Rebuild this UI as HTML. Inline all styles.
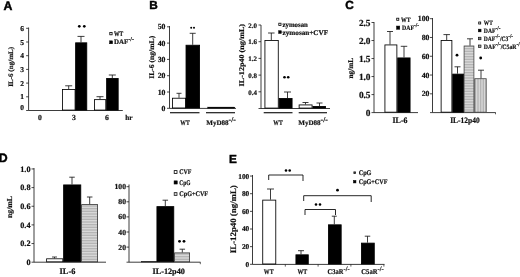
<!DOCTYPE html>
<html><head><meta charset="utf-8"><title>Figure</title>
<style>
html,body{margin:0;padding:0;background:#fff;}
body{width:520px;height:277px;overflow:hidden;}
svg{display:block;}
text{text-rendering:geometricPrecision;}
.s{font-family:"Liberation Serif","DejaVu Serif",serif;font-weight:bold;fill:#111;stroke:#111;stroke-width:0.2px;}
.b{font-family:"Liberation Sans","DejaVu Sans",sans-serif;font-weight:bold;fill:#000;stroke:#000;stroke-width:0.45px;}
</style></head><body>
<svg width="520" height="277" viewBox="0 0 520 277">
<defs>
<pattern id="hh" width="2" height="1.6" patternUnits="userSpaceOnUse"><rect width="2" height="1.6" fill="#dedede"/><rect y="0" width="2" height="0.7" fill="#a8a8a8"/></pattern>
<pattern id="vh" width="1.6" height="2" patternUnits="userSpaceOnUse"><rect width="1.6" height="2" fill="#dedede"/><rect x="0" width="0.7" height="2" fill="#a8a8a8"/></pattern>
</defs>
<rect width="520" height="277" fill="#fff"/>
<g>
<text x="3.4" y="9.9" font-size="12.3" text-anchor="start" class="b" >A</text>
<line x1="28.6" y1="27.5" x2="28.6" y2="110.5" stroke="#1a1a1a" stroke-width="0.85"/>
<line x1="28.6" y1="110.5" x2="122.8" y2="110.5" stroke="#1a1a1a" stroke-width="0.85"/>
<line x1="26.1" y1="110.5" x2="28.6" y2="110.5" stroke="#1a1a1a" stroke-width="0.8"/>
<text x="24.1" y="110.01" font-size="7.49" text-anchor="end" class="s" >0</text>
<line x1="26.1" y1="96.8" x2="28.6" y2="96.8" stroke="#1a1a1a" stroke-width="0.8"/>
<text x="24.1" y="99.31" font-size="7.49" text-anchor="end" class="s" >1</text>
<line x1="26.1" y1="83.1" x2="28.6" y2="83.1" stroke="#1a1a1a" stroke-width="0.8"/>
<text x="24.1" y="85.61" font-size="7.49" text-anchor="end" class="s" >2</text>
<line x1="26.1" y1="69.4" x2="28.6" y2="69.4" stroke="#1a1a1a" stroke-width="0.8"/>
<text x="24.1" y="71.91" font-size="7.49" text-anchor="end" class="s" >3</text>
<line x1="26.1" y1="55.7" x2="28.6" y2="55.7" stroke="#1a1a1a" stroke-width="0.8"/>
<text x="24.1" y="58.21" font-size="7.49" text-anchor="end" class="s" >4</text>
<line x1="26.1" y1="42.0" x2="28.6" y2="42.0" stroke="#1a1a1a" stroke-width="0.8"/>
<text x="24.1" y="44.51" font-size="7.49" text-anchor="end" class="s" >5</text>
<line x1="26.1" y1="28.30000000000001" x2="28.6" y2="28.30000000000001" stroke="#1a1a1a" stroke-width="0.8"/>
<text x="24.1" y="30.81" font-size="7.49" text-anchor="end" class="s" >6</text>
<rect x="62.425" y="89.425" width="12.65" height="20.65" fill="#fff" stroke="#000" stroke-width="0.85"/>
<rect x="75.625" y="42.824999999999996" width="11.15" height="67.25" fill="#000" stroke="#000" stroke-width="0.85"/>
<line x1="68.7" y1="89" x2="68.7" y2="85.8" stroke="#1a1a1a" stroke-width="0.85"/>
<line x1="65.2" y1="85.8" x2="72.2" y2="85.8" stroke="#1a1a1a" stroke-width="0.85"/>
<line x1="81" y1="42.4" x2="81" y2="36.4" stroke="#1a1a1a" stroke-width="0.85"/>
<line x1="77.5" y1="36.4" x2="84.5" y2="36.4" stroke="#1a1a1a" stroke-width="0.85"/>
<rect x="94.425" y="99.625" width="11.35" height="10.45" fill="#fff" stroke="#000" stroke-width="0.85"/>
<rect x="106.625" y="78.425" width="11.55" height="31.65" fill="#000" stroke="#000" stroke-width="0.85"/>
<line x1="100" y1="99.2" x2="100" y2="96.7" stroke="#1a1a1a" stroke-width="0.85"/>
<line x1="96.5" y1="96.7" x2="103.5" y2="96.7" stroke="#1a1a1a" stroke-width="0.85"/>
<line x1="112.3" y1="78" x2="112.3" y2="75" stroke="#1a1a1a" stroke-width="0.85"/>
<line x1="108.8" y1="75" x2="115.8" y2="75" stroke="#1a1a1a" stroke-width="0.85"/>
<circle cx="79.3" cy="26.3" r="1.35" fill="#000"/>
<circle cx="84.3" cy="26.3" r="1.35" fill="#000"/>
<text x="40" y="119.5" font-size="7.7" text-anchor="middle" class="s" >0</text>
<text x="74" y="119.5" font-size="7.7" text-anchor="middle" class="s" >3</text>
<text x="107" y="119.5" font-size="7.7" text-anchor="middle" class="s" >6</text>
<text x="125.3" y="119.7" font-size="7.28" text-anchor="start" class="s" >hr</text>
<rect x="109.80000000000001" y="32.4" width="2.3" height="2.4" fill="#fff" stroke="#000" stroke-width="0.8"/>
<text x="114" y="35.6" font-size="6.74" text-anchor="start" class="s" textLength="9.2" lengthAdjust="spacingAndGlyphs">WT</text>
<rect x="109.65" y="40.85" width="2.9" height="2.9" fill="#000" stroke="#000" stroke-width="0.5"/>
<text x="114" y="44.1" font-size="6.96" text-anchor="start" class="s" >DAF<tspan dy="-3.1" font-size="6">-/-</tspan></text>
<text transform="translate(12.9,66.8) rotate(-90)" font-size="6.8" text-anchor="middle" class="s" textLength="40" lengthAdjust="spacingAndGlyphs">IL-6 (ng/mL)</text>
<text x="149.3" y="8.9" font-size="11.8" text-anchor="start" class="b" >B</text>
<line x1="169.5" y1="26" x2="169.5" y2="108.4" stroke="#1a1a1a" stroke-width="0.85"/>
<line x1="169.5" y1="108.4" x2="236" y2="108.4" stroke="#1a1a1a" stroke-width="0.85"/>
<line x1="167.0" y1="108.3" x2="169.5" y2="108.3" stroke="#1a1a1a" stroke-width="0.8"/>
<text x="165.5" y="110.92" font-size="7.81" text-anchor="end" class="s" >0</text>
<line x1="167.0" y1="92.0" x2="169.5" y2="92.0" stroke="#1a1a1a" stroke-width="0.8"/>
<text x="165.5" y="94.62" font-size="7.81" text-anchor="end" class="s" >10</text>
<line x1="167.0" y1="75.69999999999999" x2="169.5" y2="75.69999999999999" stroke="#1a1a1a" stroke-width="0.8"/>
<text x="165.5" y="78.32" font-size="7.81" text-anchor="end" class="s" >20</text>
<line x1="167.0" y1="59.39999999999999" x2="169.5" y2="59.39999999999999" stroke="#1a1a1a" stroke-width="0.8"/>
<text x="165.5" y="62.02" font-size="7.81" text-anchor="end" class="s" >30</text>
<line x1="167.0" y1="43.099999999999994" x2="169.5" y2="43.099999999999994" stroke="#1a1a1a" stroke-width="0.8"/>
<text x="165.5" y="45.72" font-size="7.81" text-anchor="end" class="s" >40</text>
<line x1="167.0" y1="26.799999999999997" x2="169.5" y2="26.799999999999997" stroke="#1a1a1a" stroke-width="0.8"/>
<text x="165.5" y="29.42" font-size="7.81" text-anchor="end" class="s" >50</text>
<rect x="172.425" y="98.225" width="13.15" height="9.75" fill="#fff" stroke="#000" stroke-width="0.85"/>
<rect x="186.025" y="45.224999999999994" width="13.55" height="62.75" fill="#000" stroke="#000" stroke-width="0.85"/>
<line x1="179" y1="97.8" x2="179" y2="93.3" stroke="#1a1a1a" stroke-width="0.85"/>
<line x1="176.5" y1="93.3" x2="181.5" y2="93.3" stroke="#1a1a1a" stroke-width="0.85"/>
<line x1="192.7" y1="44.8" x2="192.7" y2="33.3" stroke="#1a1a1a" stroke-width="0.85"/>
<line x1="189.7" y1="33.3" x2="195.7" y2="33.3" stroke="#1a1a1a" stroke-width="0.85"/>
<circle cx="191.2" cy="27.7" r="1" fill="#000"/>
<circle cx="194" cy="27.7" r="1" fill="#000"/>
<rect x="207.65" y="107.05000000000001" width="27.2" height="1.2" fill="#000" stroke="#000" stroke-width="0.3"/>
<line x1="170" y1="112.7" x2="199.5" y2="112.7" stroke="#1a1a1a" stroke-width="1.2"/>
<line x1="206" y1="112.7" x2="235" y2="112.7" stroke="#1a1a1a" stroke-width="1.2"/>
<text x="185" y="125.4" font-size="6.96" text-anchor="middle" class="s" textLength="9.4" lengthAdjust="spacingAndGlyphs">WT</text>
<text x="206.3" y="124.6" font-size="7.06" text-anchor="start" class="s" textLength="29.5" lengthAdjust="spacingAndGlyphs">MyD88<tspan dy="-2.6" font-size="7.6">-/-</tspan></text>
<text transform="translate(154.4,57.3) rotate(-90)" font-size="7.2" text-anchor="middle" class="s" textLength="43" lengthAdjust="spacingAndGlyphs">IL-6 (ng/mL)</text>
<line x1="261" y1="25" x2="261" y2="108.5" stroke="#1a1a1a" stroke-width="0.85"/>
<line x1="261" y1="108.5" x2="330" y2="108.5" stroke="#1a1a1a" stroke-width="0.85"/>
<line x1="258.5" y1="108.5" x2="261" y2="108.5" stroke="#1a1a1a" stroke-width="0.8"/>
<line x1="258.5" y1="91.8" x2="261" y2="91.8" stroke="#1a1a1a" stroke-width="0.8"/>
<text x="257" y="94.53" font-size="6.96" text-anchor="end" class="s" >0.4</text>
<line x1="258.5" y1="75.1" x2="261" y2="75.1" stroke="#1a1a1a" stroke-width="0.8"/>
<text x="257" y="77.83" font-size="6.96" text-anchor="end" class="s" >0.8</text>
<line x1="258.5" y1="58.400000000000006" x2="261" y2="58.400000000000006" stroke="#1a1a1a" stroke-width="0.8"/>
<text x="257" y="61.13" font-size="6.96" text-anchor="end" class="s" >1.2</text>
<line x1="258.5" y1="41.7" x2="261" y2="41.7" stroke="#1a1a1a" stroke-width="0.8"/>
<text x="257" y="44.43" font-size="6.96" text-anchor="end" class="s" >1.6</text>
<line x1="258.5" y1="25.0" x2="261" y2="25.0" stroke="#1a1a1a" stroke-width="0.8"/>
<text x="257" y="27.73" font-size="6.96" text-anchor="end" class="s" >2.0</text>
<rect x="264.925" y="40.425" width="13.35" height="67.65" fill="#fff" stroke="#000" stroke-width="0.85"/>
<rect x="279.125" y="98.425" width="12.95" height="9.65" fill="#000" stroke="#000" stroke-width="0.85"/>
<line x1="271.3" y1="40" x2="271.3" y2="33" stroke="#1a1a1a" stroke-width="0.85"/>
<line x1="268.05" y1="33" x2="274.55" y2="33" stroke="#1a1a1a" stroke-width="0.85"/>
<line x1="287.5" y1="98" x2="287.5" y2="92" stroke="#1a1a1a" stroke-width="0.85"/>
<line x1="284.0" y1="92" x2="291.0" y2="92" stroke="#1a1a1a" stroke-width="0.85"/>
<circle cx="284.5" cy="77.2" r="1.3" fill="#000"/>
<circle cx="288.2" cy="77.2" r="1.3" fill="#000"/>
<rect x="299.125" y="104.925" width="12.95" height="3.15" fill="#fff" stroke="#000" stroke-width="0.85"/>
<rect x="312.925" y="106.425" width="12.65" height="1.65" fill="#000" stroke="#000" stroke-width="0.85"/>
<line x1="305.5" y1="104.5" x2="305.5" y2="102.5" stroke="#1a1a1a" stroke-width="0.85"/>
<line x1="302.5" y1="102.5" x2="308.5" y2="102.5" stroke="#1a1a1a" stroke-width="0.85"/>
<line x1="319.5" y1="106" x2="319.5" y2="103" stroke="#1a1a1a" stroke-width="0.85"/>
<line x1="316.5" y1="103" x2="322.5" y2="103" stroke="#1a1a1a" stroke-width="0.85"/>
<line x1="263.7" y1="112.7" x2="292.5" y2="112.7" stroke="#1a1a1a" stroke-width="1.2"/>
<line x1="298.7" y1="112.7" x2="327" y2="112.7" stroke="#1a1a1a" stroke-width="1.2"/>
<text x="278" y="125.4" font-size="6.96" text-anchor="middle" class="s" textLength="9.4" lengthAdjust="spacingAndGlyphs">WT</text>
<text x="298.3" y="124.6" font-size="7.06" text-anchor="start" class="s" textLength="29.5" lengthAdjust="spacingAndGlyphs">MyD88<tspan dy="-2.6" font-size="7.6">-/-</tspan></text>
<text transform="translate(244.2,55.2) rotate(-90)" font-size="7.3" text-anchor="middle" class="s" textLength="62.5" lengthAdjust="spacingAndGlyphs">IL-12p40 (ng/mL)</text>
<rect x="278.79999999999995" y="23.2" width="2.2" height="2.2" fill="#fff" stroke="#000" stroke-width="0.8"/>
<text x="282.6" y="27" font-size="7.17" text-anchor="start" class="s" textLength="25.2" lengthAdjust="spacingAndGlyphs">zymosan</text>
<rect x="278.65" y="30.75" width="2.7" height="2.7" fill="#000" stroke="#000" stroke-width="0.5"/>
<text x="282.6" y="34.7" font-size="7.17" text-anchor="start" class="s" textLength="45.5" lengthAdjust="spacingAndGlyphs">zymosan+CVF</text>
<text x="345.3" y="8.9" font-size="11.8" text-anchor="start" class="b" >C</text>
<line x1="374" y1="22" x2="374" y2="112.6" stroke="#1a1a1a" stroke-width="0.85"/>
<line x1="374" y1="112.6" x2="418" y2="112.6" stroke="#1a1a1a" stroke-width="0.85"/>
<line x1="371.5" y1="112.6" x2="374" y2="112.6" stroke="#1a1a1a" stroke-width="0.8"/>
<text x="370.5" y="115.72" font-size="9.31" text-anchor="end" class="s" >0</text>
<line x1="371.5" y1="94.58" x2="374" y2="94.58" stroke="#1a1a1a" stroke-width="0.8"/>
<text x="370.5" y="97.7" font-size="9.31" text-anchor="end" class="s" >0.5</text>
<line x1="371.5" y1="76.56" x2="374" y2="76.56" stroke="#1a1a1a" stroke-width="0.8"/>
<text x="370.5" y="79.68" font-size="9.31" text-anchor="end" class="s" >1.0</text>
<line x1="371.5" y1="58.53999999999999" x2="374" y2="58.53999999999999" stroke="#1a1a1a" stroke-width="0.8"/>
<text x="370.5" y="61.66" font-size="9.31" text-anchor="end" class="s" >1.5</text>
<line x1="371.5" y1="40.519999999999996" x2="374" y2="40.519999999999996" stroke="#1a1a1a" stroke-width="0.8"/>
<text x="370.5" y="43.64" font-size="9.31" text-anchor="end" class="s" >2.0</text>
<line x1="371.5" y1="22.5" x2="374" y2="22.5" stroke="#1a1a1a" stroke-width="0.8"/>
<text x="370.5" y="25.62" font-size="9.31" text-anchor="end" class="s" >2.5</text>
<rect x="384.925" y="44.925" width="11.95" height="67.25" fill="#fff" stroke="#000" stroke-width="0.85"/>
<rect x="397.725" y="57.925" width="12.35" height="54.25" fill="#000" stroke="#000" stroke-width="0.85"/>
<line x1="390" y1="44.5" x2="390" y2="31.5" stroke="#1a1a1a" stroke-width="0.85"/>
<line x1="387.0" y1="31.5" x2="393.0" y2="31.5" stroke="#1a1a1a" stroke-width="0.85"/>
<line x1="404" y1="57.5" x2="404" y2="46.3" stroke="#1a1a1a" stroke-width="0.85"/>
<line x1="400.75" y1="46.3" x2="407.25" y2="46.3" stroke="#1a1a1a" stroke-width="0.85"/>
<rect x="396.7" y="18.2" width="2.1" height="2.1" fill="#fff" stroke="#000" stroke-width="0.8"/>
<text x="401" y="21.5" font-size="6.63" text-anchor="start" class="s" textLength="9.5" lengthAdjust="spacingAndGlyphs">WT</text>
<rect x="396.55" y="26.05" width="3.2" height="3.2" fill="#000" stroke="#000" stroke-width="0.5"/>
<text x="402" y="30" font-size="6.63" text-anchor="start" class="s" textLength="17" lengthAdjust="spacingAndGlyphs">DAF<tspan dy="-2.8" font-size="6">-/-</tspan></text>
<text x="400" y="122.6" font-size="8.35" text-anchor="middle" class="s" textLength="15" lengthAdjust="spacingAndGlyphs">IL-6</text>
<text transform="translate(353,68.2) rotate(-90)" font-size="7.4" text-anchor="middle" class="s" textLength="20.5" lengthAdjust="spacingAndGlyphs">ng/mL</text>
<line x1="432.5" y1="18" x2="432.5" y2="112.6" stroke="#1a1a1a" stroke-width="0.85"/>
<line x1="432.5" y1="112.6" x2="495.7" y2="112.6" stroke="#1a1a1a" stroke-width="0.85"/>
<line x1="495.5" y1="112.6" x2="495.5" y2="114.3" stroke="#1a1a1a" stroke-width="0.7"/>
<line x1="430.0" y1="112.6" x2="432.5" y2="112.6" stroke="#1a1a1a" stroke-width="0.8"/>
<line x1="430.0" y1="93.82" x2="432.5" y2="93.82" stroke="#1a1a1a" stroke-width="0.8"/>
<text x="429.5" y="96.44" font-size="7.81" text-anchor="end" class="s" >20</text>
<line x1="430.0" y1="75.03999999999999" x2="432.5" y2="75.03999999999999" stroke="#1a1a1a" stroke-width="0.8"/>
<text x="429.5" y="77.66" font-size="7.81" text-anchor="end" class="s" >40</text>
<line x1="430.0" y1="56.25999999999999" x2="432.5" y2="56.25999999999999" stroke="#1a1a1a" stroke-width="0.8"/>
<text x="429.5" y="58.88" font-size="7.81" text-anchor="end" class="s" >60</text>
<line x1="430.0" y1="37.47999999999999" x2="432.5" y2="37.47999999999999" stroke="#1a1a1a" stroke-width="0.8"/>
<text x="429.5" y="40.1" font-size="7.81" text-anchor="end" class="s" >80</text>
<line x1="430.0" y1="18.69999999999999" x2="432.5" y2="18.69999999999999" stroke="#1a1a1a" stroke-width="0.8"/>
<text x="429.5" y="21.32" font-size="7.81" text-anchor="end" class="s" >100</text>
<rect x="441.125" y="40.425" width="10.75" height="71.75" fill="#fff" stroke="#000" stroke-width="0.85"/>
<rect x="452.725" y="74.125" width="10.85" height="38.05" fill="#000" stroke="#000" stroke-width="0.85"/>
<rect x="464.09999999999997" y="46.0" width="9.8" height="66.2" fill="url(#hh)" stroke="#444" stroke-width="0.8"/>
<rect x="474.7" y="78.7" width="11.5" height="33.5" fill="url(#vh)" stroke="#444" stroke-width="0.8"/>
<line x1="446.7" y1="40" x2="446.7" y2="34.6" stroke="#1a1a1a" stroke-width="0.85"/>
<line x1="443.45" y1="34.6" x2="449.95" y2="34.6" stroke="#1a1a1a" stroke-width="0.85"/>
<line x1="457.5" y1="73.7" x2="457.5" y2="66.8" stroke="#1a1a1a" stroke-width="0.85"/>
<line x1="454.5" y1="66.8" x2="460.5" y2="66.8" stroke="#1a1a1a" stroke-width="0.85"/>
<line x1="470" y1="45.6" x2="470" y2="38.8" stroke="#1a1a1a" stroke-width="0.85"/>
<line x1="467.0" y1="38.8" x2="473.0" y2="38.8" stroke="#1a1a1a" stroke-width="0.85"/>
<line x1="481" y1="78.3" x2="481" y2="70.2" stroke="#1a1a1a" stroke-width="0.85"/>
<line x1="478.0" y1="70.2" x2="484.0" y2="70.2" stroke="#1a1a1a" stroke-width="0.85"/>
<circle cx="457" cy="55.2" r="1.4" fill="#000"/>
<circle cx="480.7" cy="58" r="1.4" fill="#000"/>
<text x="465" y="122.6" font-size="8.24" text-anchor="middle" class="s" textLength="29.6" lengthAdjust="spacingAndGlyphs">IL-12p40</text>
<rect x="478.7" y="22.0" width="2.0" height="2.0" fill="#fff" stroke="#000" stroke-width="0.8"/>
<text x="483.8" y="25.2" font-size="6.63" text-anchor="start" class="s" textLength="8.9" lengthAdjust="spacingAndGlyphs">WT</text>
<rect x="478.35" y="29.15" width="2.7" height="2.7" fill="#000" stroke="#000" stroke-width="0.5"/>
<text x="483.8" y="33" font-size="6.63" text-anchor="start" class="s" textLength="16.6" lengthAdjust="spacingAndGlyphs">DAF<tspan dy="-2.8" font-size="6">-/-</tspan></text>
<rect x="478.40000000000003" y="37.199999999999996" width="2.6" height="2.6" fill="#777" stroke="#000" stroke-width="0.6"/>
<text x="483.8" y="41" font-size="6.63" text-anchor="start" class="s" textLength="29.2" lengthAdjust="spacingAndGlyphs">DAF<tspan dy="-2.8" font-size="6">-/-</tspan><tspan dy="2.8">/C3</tspan><tspan dy="-2.8" font-size="6">-/-</tspan></text>
<rect x="478.40000000000003" y="45.0" width="2.6" height="2.6" fill="#999" stroke="#000" stroke-width="0.6"/>
<text x="483.8" y="48.8" font-size="6.63" text-anchor="start" class="s" textLength="37.7" lengthAdjust="spacingAndGlyphs">DAF<tspan dy="-2.8" font-size="6">-/-</tspan><tspan dy="2.8">/C5aR</tspan><tspan dy="-2.8" font-size="6">-/-</tspan></text>
<text x="-1.2" y="162.4" font-size="12.3" text-anchor="start" class="b" >D</text>
<line x1="34" y1="168" x2="34" y2="262.2" stroke="#1a1a1a" stroke-width="0.85"/>
<line x1="34" y1="262.2" x2="106" y2="262.2" stroke="#1a1a1a" stroke-width="0.85"/>
<line x1="31.5" y1="262.2" x2="34" y2="262.2" stroke="#1a1a1a" stroke-width="0.8"/>
<text x="30.5" y="264.96" font-size="8.24" text-anchor="end" class="s" >0</text>
<line x1="31.5" y1="243.54999999999998" x2="34" y2="243.54999999999998" stroke="#1a1a1a" stroke-width="0.8"/>
<text x="30.5" y="246.31" font-size="8.24" text-anchor="end" class="s" >0.2</text>
<line x1="31.5" y1="224.89999999999998" x2="34" y2="224.89999999999998" stroke="#1a1a1a" stroke-width="0.8"/>
<text x="30.5" y="227.66" font-size="8.24" text-anchor="end" class="s" >0.4</text>
<line x1="31.5" y1="206.25" x2="34" y2="206.25" stroke="#1a1a1a" stroke-width="0.8"/>
<text x="30.5" y="209.01" font-size="8.24" text-anchor="end" class="s" >0.6</text>
<line x1="31.5" y1="187.6" x2="34" y2="187.6" stroke="#1a1a1a" stroke-width="0.8"/>
<text x="30.5" y="190.36" font-size="8.24" text-anchor="end" class="s" >0.8</text>
<line x1="31.5" y1="168.95" x2="34" y2="168.95" stroke="#1a1a1a" stroke-width="0.8"/>
<text x="30.5" y="171.71" font-size="8.24" text-anchor="end" class="s" >1.0</text>
<rect x="46.6" y="258.79999999999995" width="16.2" height="3.0" fill="#fff" stroke="#000" stroke-width="0.8"/>
<rect x="63.625" y="184.925" width="17.15" height="76.85" fill="#000" stroke="#000" stroke-width="0.85"/>
<rect x="81.60000000000001" y="204.6" width="16.0" height="57.2" fill="url(#hh)" stroke="#333" stroke-width="0.8"/>
<line x1="54.5" y1="258.4" x2="54.5" y2="257" stroke="#1a1a1a" stroke-width="0.8"/>
<line x1="52.0" y1="257" x2="57.0" y2="257" stroke="#1a1a1a" stroke-width="0.8"/>
<line x1="72" y1="184.5" x2="72" y2="177.2" stroke="#1a1a1a" stroke-width="0.85"/>
<line x1="69.25" y1="177.2" x2="74.75" y2="177.2" stroke="#1a1a1a" stroke-width="0.85"/>
<line x1="89.7" y1="204.2" x2="89.7" y2="197" stroke="#1a1a1a" stroke-width="0.85"/>
<line x1="86.95" y1="197" x2="92.45" y2="197" stroke="#1a1a1a" stroke-width="0.85"/>
<text x="67.5" y="274.2" font-size="8.35" text-anchor="middle" class="s" >IL-6</text>
<text transform="translate(12.2,207) rotate(-90)" font-size="7.6" text-anchor="middle" class="s" textLength="22" lengthAdjust="spacingAndGlyphs">ng/mL</text>
<line x1="129" y1="184.5" x2="129" y2="262.2" stroke="#1a1a1a" stroke-width="0.85"/>
<line x1="129" y1="262.2" x2="200.5" y2="262.2" stroke="#1a1a1a" stroke-width="0.85"/>
<line x1="126.5" y1="262.2" x2="129" y2="262.2" stroke="#1a1a1a" stroke-width="0.8"/>
<line x1="126.5" y1="247.1" x2="129" y2="247.1" stroke="#1a1a1a" stroke-width="0.8"/>
<text x="126" y="249.68" font-size="7.7" text-anchor="end" class="s" >20</text>
<line x1="126.5" y1="232.0" x2="129" y2="232.0" stroke="#1a1a1a" stroke-width="0.8"/>
<text x="126" y="234.58" font-size="7.7" text-anchor="end" class="s" >40</text>
<line x1="126.5" y1="216.89999999999998" x2="129" y2="216.89999999999998" stroke="#1a1a1a" stroke-width="0.8"/>
<text x="126" y="219.48" font-size="7.7" text-anchor="end" class="s" >60</text>
<line x1="126.5" y1="201.79999999999998" x2="129" y2="201.79999999999998" stroke="#1a1a1a" stroke-width="0.8"/>
<text x="126" y="204.38" font-size="7.7" text-anchor="end" class="s" >80</text>
<line x1="126.5" y1="186.7" x2="129" y2="186.7" stroke="#1a1a1a" stroke-width="0.8"/>
<text x="126" y="189.28" font-size="7.7" text-anchor="end" class="s" >100</text>
<rect x="141.15" y="261.45" width="15.7" height="0.6" fill="#000" stroke="#000" stroke-width="0.3"/>
<rect x="156.925" y="206.625" width="16.85" height="55.15" fill="#000" stroke="#000" stroke-width="0.85"/>
<rect x="174.6" y="252.9" width="15.0" height="8.9" fill="url(#hh)" stroke="#333" stroke-width="0.8"/>
<line x1="165.3" y1="206.2" x2="165.3" y2="200.2" stroke="#1a1a1a" stroke-width="0.85"/>
<line x1="162.55" y1="200.2" x2="168.05" y2="200.2" stroke="#1a1a1a" stroke-width="0.85"/>
<line x1="182.3" y1="252.5" x2="182.3" y2="249.2" stroke="#1a1a1a" stroke-width="0.85"/>
<line x1="179.55" y1="249.2" x2="185.05" y2="249.2" stroke="#1a1a1a" stroke-width="0.85"/>
<circle cx="179.5" cy="241.3" r="1.4" fill="#000"/>
<circle cx="184" cy="241.3" r="1.4" fill="#000"/>
<text x="168.7" y="274.2" font-size="8.24" text-anchor="middle" class="s" >IL-12p40</text>
<line x1="200.3" y1="262.2" x2="200.3" y2="264.2" stroke="#1a1a1a" stroke-width="0.7"/>
<rect x="174.20000000000002" y="170.6" width="2.8" height="2.8" fill="#fff" stroke="#000" stroke-width="0.8"/>
<text x="179.3" y="174.4" font-size="7.06" text-anchor="start" class="s" textLength="12.2" lengthAdjust="spacingAndGlyphs">CVF</text>
<rect x="174.05" y="180.85" width="3.2" height="3.2" fill="#000" stroke="#000" stroke-width="0.5"/>
<text x="179.3" y="184.9" font-size="7.06" text-anchor="start" class="s" textLength="11.2" lengthAdjust="spacingAndGlyphs">CpG</text>
<rect x="174.20000000000002" y="192.6" width="2.8" height="2.8" fill="#ccc" stroke="#222" stroke-width="0.8"/>
<text x="179.3" y="196.4" font-size="7.06" text-anchor="start" class="s" textLength="28.8" lengthAdjust="spacingAndGlyphs">CpG+CVF</text>
<text x="228.9" y="162.8" font-size="11.8" text-anchor="start" class="b" >E</text>
<line x1="252.5" y1="175" x2="252.5" y2="264.4" stroke="#1a1a1a" stroke-width="0.85"/>
<line x1="252.5" y1="264.4" x2="384.5" y2="264.4" stroke="#1a1a1a" stroke-width="0.85"/>
<line x1="250.0" y1="264.3" x2="252.5" y2="264.3" stroke="#1a1a1a" stroke-width="0.8"/>
<text x="249.3" y="266.77" font-size="7.38" text-anchor="end" class="s" >0</text>
<line x1="250.0" y1="246.65" x2="252.5" y2="246.65" stroke="#1a1a1a" stroke-width="0.8"/>
<text x="249.3" y="249.12" font-size="7.38" text-anchor="end" class="s" >20</text>
<line x1="250.0" y1="229.0" x2="252.5" y2="229.0" stroke="#1a1a1a" stroke-width="0.8"/>
<text x="249.3" y="231.47" font-size="7.38" text-anchor="end" class="s" >40</text>
<line x1="250.0" y1="211.35000000000002" x2="252.5" y2="211.35000000000002" stroke="#1a1a1a" stroke-width="0.8"/>
<text x="249.3" y="213.82" font-size="7.38" text-anchor="end" class="s" >60</text>
<line x1="250.0" y1="193.70000000000002" x2="252.5" y2="193.70000000000002" stroke="#1a1a1a" stroke-width="0.8"/>
<text x="249.3" y="196.17" font-size="7.38" text-anchor="end" class="s" >80</text>
<line x1="250.0" y1="176.05" x2="252.5" y2="176.05" stroke="#1a1a1a" stroke-width="0.8"/>
<text x="249.3" y="178.52" font-size="7.38" text-anchor="end" class="s" >100</text>
<rect x="262.725" y="200.125" width="13.05" height="63.85" fill="#fff" stroke="#000" stroke-width="0.85"/>
<line x1="270.5" y1="199.7" x2="270.5" y2="189" stroke="#1a1a1a" stroke-width="0.85"/>
<line x1="267.0" y1="189" x2="274.0" y2="189" stroke="#1a1a1a" stroke-width="0.85"/>
<rect x="295.925" y="254.82500000000002" width="12.35" height="9.15" fill="#000" stroke="#000" stroke-width="0.85"/>
<line x1="301" y1="254.4" x2="301" y2="250.7" stroke="#1a1a1a" stroke-width="0.85"/>
<line x1="298.0" y1="250.7" x2="304.0" y2="250.7" stroke="#1a1a1a" stroke-width="0.85"/>
<rect x="328.425" y="224.82500000000002" width="12.75" height="39.15" fill="#000" stroke="#000" stroke-width="0.85"/>
<line x1="334.3" y1="224.4" x2="334.3" y2="216.2" stroke="#1a1a1a" stroke-width="0.85"/>
<line x1="331.8" y1="216.2" x2="336.8" y2="216.2" stroke="#1a1a1a" stroke-width="0.85"/>
<rect x="361.425" y="243.125" width="12.85" height="20.85" fill="#000" stroke="#000" stroke-width="0.85"/>
<line x1="367.5" y1="242.7" x2="367.5" y2="236.2" stroke="#1a1a1a" stroke-width="0.85"/>
<line x1="364.75" y1="236.2" x2="370.25" y2="236.2" stroke="#1a1a1a" stroke-width="0.85"/>
<text x="268.7" y="273.7" font-size="7.28" text-anchor="middle" class="s" textLength="9.8" lengthAdjust="spacingAndGlyphs">WT</text>
<text x="302.4" y="273.7" font-size="7.28" text-anchor="middle" class="s" textLength="9.8" lengthAdjust="spacingAndGlyphs">WT</text>
<line x1="285.3" y1="264.4" x2="285.3" y2="266.6" stroke="#1a1a1a" stroke-width="0.7"/>
<line x1="318.1" y1="264.4" x2="318.1" y2="266.6" stroke="#1a1a1a" stroke-width="0.7"/>
<line x1="350.9" y1="264.4" x2="350.9" y2="266.6" stroke="#1a1a1a" stroke-width="0.7"/>
<line x1="383.9" y1="264.4" x2="383.9" y2="266.6" stroke="#1a1a1a" stroke-width="0.7"/>
<text x="327.6" y="273.6" font-size="7.28" text-anchor="start" class="s" textLength="22" lengthAdjust="spacingAndGlyphs">C3aR<tspan dy="-2.6" font-size="7.2">-/-</tspan></text>
<text x="361.3" y="273.6" font-size="7.28" text-anchor="start" class="s" textLength="22.4" lengthAdjust="spacingAndGlyphs">C5aR<tspan dy="-2.6" font-size="7.2">-/-</tspan></text>
<path d="M268.7 180V175H303V181" fill="none" stroke="#000" stroke-width="0.85"/>
<path d="M303.7 201V195.7H371.2V202" fill="none" stroke="#000" stroke-width="0.85"/>
<path d="M305 215V209.5H335.5V215" fill="none" stroke="#000" stroke-width="0.85"/>
<circle cx="286" cy="170.5" r="1.3" fill="#000"/>
<circle cx="289.7" cy="170.5" r="1.3" fill="#000"/>
<circle cx="337.5" cy="190.2" r="1.4" fill="#000"/>
<circle cx="316" cy="204.5" r="1.3" fill="#000"/>
<circle cx="320" cy="204.5" r="1.3" fill="#000"/>
<text transform="translate(235.6,219.2) rotate(-90)" font-size="8.3" text-anchor="middle" class="s" textLength="68" lengthAdjust="spacingAndGlyphs">IL-12p40 (ng/mL)</text>
<rect x="353.9" y="171.9" width="1.6" height="1.6" fill="#fff" stroke="#000" stroke-width="0.8"/>
<text x="358.7" y="175.2" font-size="7.06" text-anchor="start" class="s" textLength="12.7" lengthAdjust="spacingAndGlyphs">CpG</text>
<rect x="353.45" y="180.45" width="2.5" height="2.5" fill="#000" stroke="#000" stroke-width="0.5"/>
<text x="358.7" y="184.3" font-size="7.06" text-anchor="start" class="s" textLength="28.8" lengthAdjust="spacingAndGlyphs">CpG+CVF</text>
</g>
</svg>
</body></html>
